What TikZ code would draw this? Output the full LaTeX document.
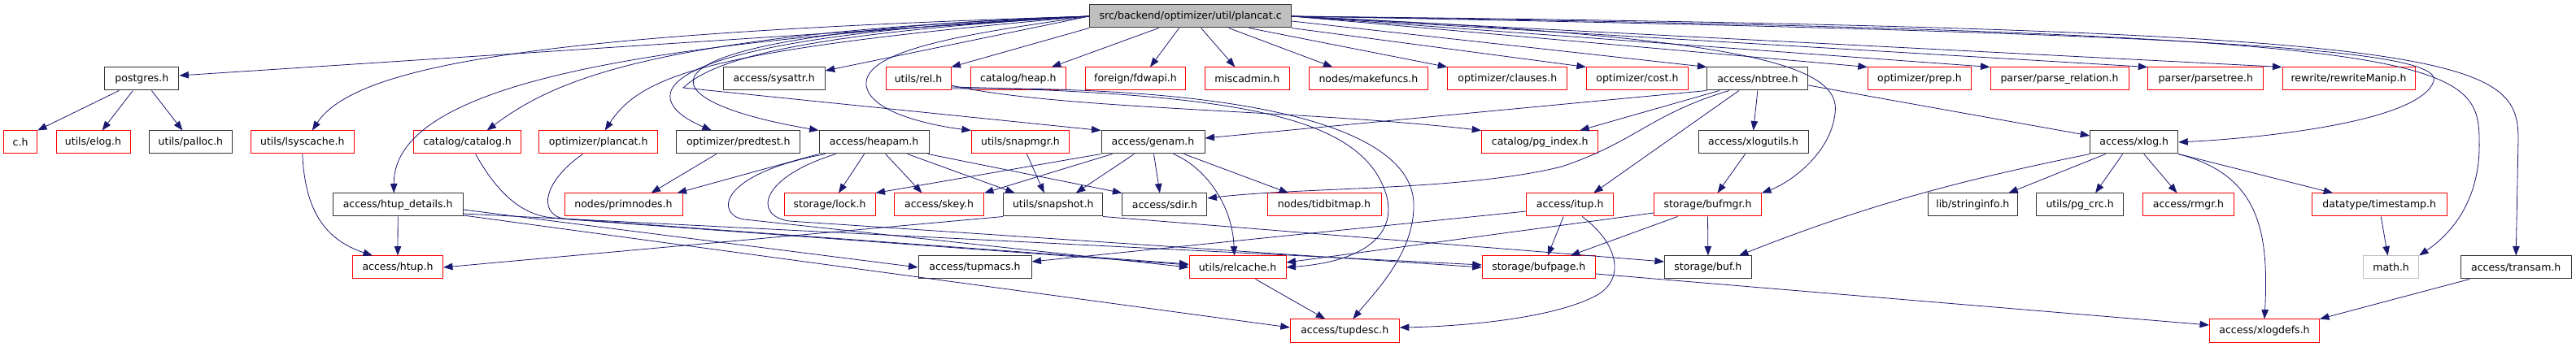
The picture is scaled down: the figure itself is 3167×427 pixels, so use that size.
\documentclass[tikz,border=0pt]{standalone}
\usepackage{fontspec}
\setsansfont{DejaVu Sans}
\usepackage{xcolor}
\usetikzlibrary{arrows.meta}
\definecolor{edgeblue}{HTML}{191970}
\definecolor{grey75}{HTML}{BFBFBF}

\begin{document}
\begin{tikzpicture}[
  x=1pt, y=-1pt,
  every node/.style={font=\sffamily\fontsize{12.5}{15}\selectfont},
  box/.style={draw=black!80, line width=1pt, minimum height=28pt, inner xsep=2pt, inner ysep=0pt},
  redbox/.style={box, draw=red},
  greybox/.style={box, draw=grey75},
  rootbox/.style={box, fill=grey75},
  arrow/.style={-{Triangle[length=11.5pt,width=8.5pt]}, edgeblue, line width=0.8pt},
]

\useasboundingbox (0,0) rectangle (3167,427);

\node[rootbox, minimum width=248pt] (root) at (1463.6,20) {src/backend/optimizer/util/plancat.c};

% Row 1
\node[box, minimum width=91pt] (postgres) at (174.4,97) {postgres.h};
\node[box, minimum width=125pt] (sysattr) at (951.7,97) {access/sysattr.h};
\node[redbox, minimum width=80pt] (rel) at (1129,97) {utils/rel.h};
\node[redbox, minimum width=117pt] (heap) at (1251.8,97) {catalog/heap.h};
\node[redbox, minimum width=123pt] (fdwapi) at (1396,97) {foreign/fdwapi.h};
\node[redbox, minimum width=104pt] (miscadmin) at (1533.3,97) {miscadmin.h};
\node[redbox, minimum width=146pt] (makefuncs) at (1682.4,97) {nodes/makefuncs.h};
\node[redbox, minimum width=147pt] (clauses) at (1853.3,97) {optimizer/clauses.h};
\node[redbox, minimum width=125pt] (cost) at (2012.9,97) {optimizer/cost.h};
\node[box, minimum width=124pt] (nbtree) at (2160.9,97) {access/nbtree.h};
\node[redbox, minimum width=127pt] (prep) at (2359.9,97) {optimizer/prep.h};
\node[redbox, minimum width=170pt] (parserel) at (2532,97) {parser/parse\_relation.h};
\node[redbox, minimum width=142pt] (parsetree) at (2711.8,97) {parser/parsetree.h};
\node[redbox, minimum width=163pt] (rewrite) at (2887.5,97) {rewrite/rewriteManip.h};

% Row 2
\node[redbox, minimum width=41pt] (c) at (25.1,175) {c.h};
\node[redbox, minimum width=91pt] (elog) at (114.5,175) {utils/elog.h};
\node[box, minimum width=102pt] (palloc) at (234.4,175) {utils/palloc.h};
\node[redbox, minimum width=127pt] (lsyscache) at (371.8,175) {utils/lsyscache.h};
\node[redbox, minimum width=132pt] (catalog) at (574.6,175) {catalog/catalog.h};
\node[redbox, minimum width=146pt] (plancat) at (735.7,175) {optimizer/plancat.h};
\node[box, minimum width=152pt] (predtest) at (907.8,175) {optimizer/predtest.h};
\node[box, minimum width=135pt] (heapam) at (1074.6,175) {access/heapam.h};
\node[redbox, minimum width=120pt] (snapmgr) at (1254.4,175) {utils/snapmgr.h};
\node[box, minimum width=127pt] (genam) at (1417.5,175) {access/genam.h};
\node[redbox, minimum width=143pt] (pgindex) at (1893.2,175) {catalog/pg\_index.h};
\node[box, minimum width=135pt] (xlogutils) at (2155.6,175) {access/xlogutils.h};
\node[box, minimum width=108pt] (xlog) at (2623.7,175) {access/xlog.h};

% Row 3
\node[box, minimum width=160pt] (htupdetails) at (489.2,252) {access/htup\_details.h};
\node[redbox, minimum width=145pt] (primnodes) at (766.5,252) {nodes/primnodes.h};
\node[redbox, minimum width=112pt] (lock) at (1020,252) {storage/lock.h};
\node[redbox, minimum width=110pt] (skey) at (1154.5,252) {access/skey.h};
\node[box, minimum width=122pt] (snapshot) at (1294.7,252) {utils/snapshot.h};
\node[box, minimum width=104pt] (sdir) at (1431.9,252) {access/sdir.h};
\node[redbox, minimum width=140pt] (tidbitmap) at (1628,252) {nodes/tidbitmap.h};
\node[redbox, minimum width=107pt] (itup) at (1930.2,252) {access/itup.h};
\node[redbox, minimum width=132pt] (bufmgr) at (2099.5,252) {storage/bufmgr.h};
\node[box, minimum width=110pt] (stringinfo) at (2425.3,252) {lib/stringinfo.h};
\node[box, minimum width=107pt] (pgcrc) at (2557.1,252) {utils/pg\_crc.h};
\node[redbox, minimum width=112pt] (rmgr) at (2690.5,252) {access/rmgr.h};
\node[redbox, minimum width=166pt] (timestamp) at (2925.2,252) {datatype/timestamp.h};

% Row 4
\node[redbox, minimum width=111pt] (htup) at (489,329) {access/htup.h};
\node[box, minimum width=139pt] (tupmacs) at (1198.5,329) {access/tupmacs.h};
\node[redbox, minimum width=119pt] (relcache) at (1521.5,329) {utils/relcache.h};
\node[redbox, minimum width=139pt] (bufpage) at (1891.8,329) {storage/bufpage.h};
\node[box, minimum width=107pt] (buf) at (2099.9,329) {storage/buf.h};
\node[greybox, minimum width=68pt] (math) at (2939.6,329) {math.h};
\node[box, minimum width=136pt] (transam) at (3093.2,329) {access/transam.h};

% Row 5
\node[redbox, minimum width=134pt] (tupdesc) at (1653.3,407) {access/tupdesc.h};
\node[redbox, minimum width=135pt] (xlogdefs) at (2784,407) {access/xlogdefs.h};

% plancat.c, left side
\draw[arrow] (root.west) -- ([yshift=4pt]postgres.east);
\draw[arrow] (root.west) .. controls (700,40) and (440,75) .. ([xshift=12pt]lsyscache.north);
\draw[arrow] (root.west) .. controls (800,50) and (484,100) .. ([xshift=-5pt]htupdetails.north);
\draw[arrow] (root.west) .. controls (800,40) and (680,100) .. ([xshift=24pt]catalog.north);
\draw[arrow] (root.west) .. controls (880,60) and (790,90) .. ([xshift=8pt]plancat.north);
\draw[arrow] (root.west) .. controls (780,45) and (780,120) .. ([xshift=-33pt]predtest.north);
\draw[arrow] (root.west) .. controls (760,40) and (770,120) .. (heapam.north west);
\draw[arrow] (root.west) -- ([yshift=10pt]sysattr.east);
\draw[arrow] (root.south west) -- (rel.north east);
\draw[arrow] (root.west) .. controls (1000,40) and (880,70) .. (840,108) -- (genam.north west);
\draw[arrow] (root.west) .. controls (1200,40) and (1060,60) .. (1065,105)
  .. controls (1070,140) and (1150,155) .. (snapmgr.north west);

% plancat.c, bottom
\draw[arrow] ([xshift=-39pt]root.south) -- ([xshift=41pt]heap.north);
\draw[arrow] ([xshift=-14pt]root.south) -- ([xshift=18pt]fdwapi.north);
\draw[arrow] ([xshift=13pt]root.south) -- ([xshift=-15pt]miscadmin.north);
\draw[arrow] ([xshift=47pt]root.south) -- ([xshift=-44pt]makefuncs.north);
\draw[arrow] ([xshift=72pt]root.south) -- (clauses.north west);
\draw[arrow] (root.south east) -- (cost.north west);

% plancat.c, right side
\draw[arrow] ([yshift=-6pt]root.east) -- (nbtree.north west);
\draw[arrow] (root.east) -- (prep.north west);
\draw[arrow] (root.east) -- (parserel.north west);
\draw[arrow] (root.east) -- (parsetree.north west);
\draw[arrow] (root.east) -- (rewrite.north west);
\draw[arrow] (root.east) .. controls (2150,45) and (2265,80) .. (2256,140)
  .. controls (2250,190) and (2200,225) .. (bufmgr.north east);
\draw[arrow] (root.east) .. controls (2700,40) and (3005,60) .. (2992,100)
  .. controls (2975,150) and (2780,170) .. (xlog.east);
\draw[arrow] (root.east) .. controls (3000,40) and (3048,70) .. (3048,173)
  .. controls (3050,250) and (3010,290) .. (math.north east);
\draw[arrow] (root.east) .. controls (3030,35) and (3095,70) .. (3096,170) -- (transam.north);

% postgres.h and friends
\draw[arrow] ([xshift=-28pt]postgres.south) -- (c.north east);
\draw[arrow] ([xshift=-11pt]postgres.south) -- ([xshift=11pt]elog.north);
\draw[arrow] ([xshift=12pt]postgres.south) -- ([xshift=-10pt]palloc.north);
\draw[arrow] (lsyscache.south) .. controls (375,260) and (400,295) .. ([xshift=-31pt]htup.north);
\draw[arrow] (htupdetails.south) -- (htup.north);
\draw[arrow] ([yshift=-6pt]htupdetails.east) -- (tupmacs.west);
\draw[arrow] ([yshift=-11pt]htupdetails.east) -- ([yshift=3pt]bufpage.west);
\draw[arrow] ([yshift=-13pt]htupdetails.east) -- ([yshift=4pt]tupdesc.west);

% catalog.h, plancat.h, predtest.h
\draw[arrow] ([xshift=10pt]catalog.south) .. controls (610,235) and (640,265) .. (680,268) -- ([yshift=4pt]relcache.west);
\draw[arrow] ([xshift=-19pt]plancat.south) .. controls (665,225) and (660,268) .. (700,270) -- ([yshift=3pt]relcache.west);
\draw[arrow] ([xshift=-27pt]predtest.south) -- ([xshift=34pt]primnodes.north);

% heapam.h
\draw[arrow] (heapam.south west) -- ([xshift=66pt]primnodes.north);
\draw[arrow] ([xshift=-60pt]heapam.south) .. controls (880,215) and (880,265) .. (915,270) -- (relcache.west);
\draw[arrow] ([xshift=-47pt]heapam.south) .. controls (935,218) and (925,265) .. (970,272) -- (bufpage.west);
\draw[arrow] ([xshift=-12pt]heapam.south) -- ([xshift=11pt]lock.north);
\draw[arrow] ([xshift=14pt]heapam.south) -- ([xshift=-21pt]skey.north);
\draw[arrow] ([xshift=41pt]heapam.south) -- ([xshift=-47pt]snapshot.north);
\draw[arrow] ([xshift=66pt]heapam.south) -- (sdir.north west);
\draw[arrow] ([xshift=8pt]snapmgr.south) -- ([xshift=-11pt]snapshot.north);

% genam.h
\draw[arrow] (genam.south west) -- (lock.north east);
\draw[arrow] ([xshift=-50pt]genam.south) -- (skey.north east);
\draw[arrow] ([xshift=-23pt]genam.south) -- ([xshift=28pt]snapshot.north);
\draw[arrow] ([xshift=1pt]genam.south) -- ([xshift=-6pt]sdir.north);
\draw[arrow] ([xshift=25pt]genam.south) .. controls (1480,205) and (1515,250) .. ([xshift=-4pt]relcache.north);
\draw[arrow] ([xshift=38pt]genam.south) -- ([xshift=-44pt]tidbitmap.north);

% rel.h
\draw[arrow] ([yshift=-8pt]rel.east) .. controls (1300,135) and (1600,135) .. (pgindex.north west);
\draw[arrow] ([yshift=-10pt]rel.east) .. controls (1500,115) and (1640,140) .. (1690,210)
  .. controls (1730,270) and (1700,320) .. (relcache.east);
\draw[arrow] ([yshift=-12pt]rel.east) .. controls (1550,105) and (1735,160) .. (1738,250)
  .. controls (1740,310) and (1690,360) .. ([xshift=10pt]tupdesc.north);

% snapshot.h
\draw[arrow] (snapshot.south west) -- (htup.east);
\draw[arrow] (snapshot.south east) -- ([yshift=7pt]buf.west);

% nbtree.h
\draw[arrow] (nbtree.south west) -- ([yshift=5pt]genam.east);
\draw[arrow] ([xshift=-47pt]nbtree.south) -- ([xshift=49pt]pgindex.north);
\draw[arrow] ([xshift=-35pt]nbtree.south) .. controls (2030,140) and (2010,175) .. (1920,205)
  .. controls (1800,235) and (1600,230) .. ([yshift=8pt]sdir.east);
\draw[arrow] ([xshift=-23pt]nbtree.south) -- ([xshift=29pt]itup.north);
\draw[arrow] (nbtree.south) -- (xlogutils.north);
\draw[arrow] ([yshift=-8pt]nbtree.east) -- ([yshift=8pt]xlog.west);
\draw[arrow] ([xshift=-10pt]xlogutils.south) -- ([xshift=12pt]bufmgr.north);

% bufmgr.h, itup.h
\draw[arrow] ([yshift=-10pt]bufmgr.west) -- ([yshift=6pt]relcache.east);
\draw[arrow] ([xshift=-37pt]bufmgr.south) -- ([xshift=39pt]bufpage.north);
\draw[arrow] (bufmgr.south) -- (buf.north);
\draw[arrow] ([yshift=-8pt]itup.west) -- ([yshift=7pt]tupmacs.east);
\draw[arrow] ([xshift=-8pt]itup.south) -- ([xshift=11pt]bufpage.north);
\draw[arrow] ([xshift=15pt]itup.south) .. controls (1990,300) and (2000,345) .. (1960,365)
  .. controls (1900,395) and (1780,402) .. ([yshift=4pt]tupdesc.east);
\draw[arrow] ([xshift=22pt]relcache.south) -- ([xshift=-24pt]tupdesc.north);
\draw[arrow] ([yshift=-8pt]bufpage.east) -- ([yshift=7pt]xlogdefs.west);

% xlog.h
\draw[arrow] (xlog.south west) .. controls (2420,220) and (2300,250) .. ([xshift=38pt]buf.north);
\draw[arrow] ([xshift=-35pt]xlog.south) -- ([xshift=44pt]stringinfo.north);
\draw[arrow] ([xshift=-14pt]xlog.south) -- ([xshift=19pt]pgcrc.north);
\draw[arrow] ([xshift=12pt]xlog.south) -- ([xshift=-14pt]rmgr.north);
\draw[arrow] (xlog.south east) -- ([xshift=-57pt]timestamp.north);
\draw[arrow] (xlog.south east) .. controls (2775,215) and (2790,280) .. (xlogdefs.north);
\draw[arrow] ([xshift=2pt]timestamp.south) -- ([xshift=-4pt]math.north);
\draw[arrow] ([xshift=-57pt]transam.south) -- (xlogdefs.north east);

\end{tikzpicture}
\end{document}
